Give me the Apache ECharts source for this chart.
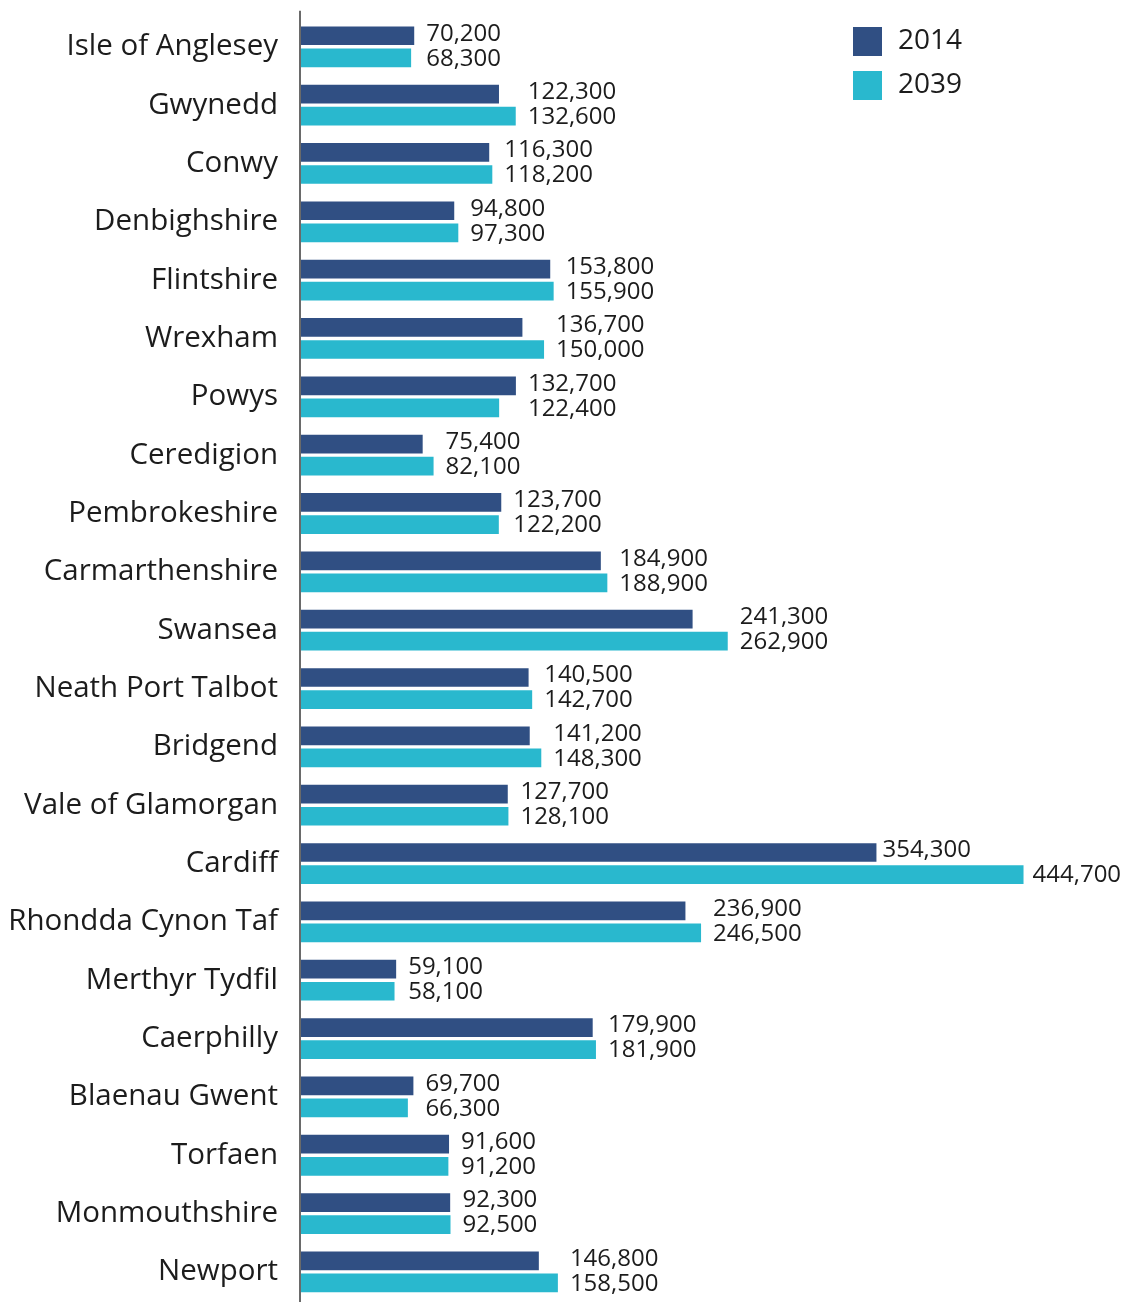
<!DOCTYPE html>
<html>
<head>
<meta charset="utf-8">
<script src="https://cdn.jsdelivr.net/npm/echarts@6/dist/echarts.min.js"></script>
<style>
html,body{margin:0;padding:0;background:#fff;}
#chart{width:1126px;height:1302px;}
</style>
</head>
<body>
<div id="chart"></div>
<script>
const categories = ["Isle of Anglesey","Gwynedd","Conwy","Denbighshire","Flintshire","Wrexham","Powys","Ceredigion","Pembrokeshire","Carmarthenshire","Swansea","Neath Port Talbot","Bridgend","Vale of Glamorgan","Cardiff","Rhondda Cynon Taf","Merthyr Tydfil","Caerphilly","Blaenau Gwent","Torfaen","Monmouthshire","Newport"];
const values2014 = [70200,122300,116300,94800,153800,136700,132700,75400,123700,184900,241300,140500,141200,127700,354300,236900,59100,179900,69700,91600,92300,146800];
const values2039 = [68300,132600,118200,97300,155900,150000,122400,82100,122200,188900,262900,142700,148300,128100,444700,246500,58100,181900,66300,91200,92500,158500];
const seriesNames = ["2014","2039"];

const C14 = '#304f83', C39 = '#29b8ce', TXT = '#1c1c1c';
const FONT = '"Open Sans", "Noto Sans", sans-serif';
const fmt = v => v.toLocaleString('en-GB');

const labelData = categories.map((c,i)=>[i, values2014[i], values2039[i]]);

const chart = echarts.init(document.getElementById('chart'), null, {renderer:'canvas'});
chart.setOption({
  animation:false,
  textStyle:{fontFamily:FONT},
  grid:{left:300, right:12.5, top:17.6, bottom:0.9, containLabel:false},
  xAxis:{type:'value', min:0, max:500000, show:false},
  yAxis:{
    type:'category', data:categories, inverse:true,
    axisLine:{show:false}, axisTick:{show:false},
    axisLabel:{fontSize:29.5, color:TXT, margin:22, fontFamily:FONT, padding:[0,0,8,0]}
  },
  legend:{
    data:seriesNames, orient:'vertical', left:848, top:22,
    itemWidth:29, itemHeight:29, itemGap:15, icon:'rect',
    textStyle:{fontSize:28, color:TXT, fontFamily:FONT, padding:[0,0,0,11]}
  },
  graphic:[{type:'line', shape:{x1:300, y1:10.7, x2:300, y2:1302}, style:{stroke:'#6a6a6a', lineWidth:2}, z:10}],
  series:[
    {name:'2014', type:'bar', data:values2014, barWidth:18.7, barGap:'18%', itemStyle:{color:C14}},
    {name:'2039', type:'bar', data:values2039, barWidth:18.7, barGap:'18%', itemStyle:{color:C39}},
    {
      type:'custom', data:labelData, encode:{x:[1,2], y:0}, silent:true, z:5,
      renderItem:function(params, api){
        const idx = api.value(0), a = api.value(1), b = api.value(2);
        const cy = api.coord([0, idx])[1];
        const xa = api.coord([a, idx])[0], xb = api.coord([b, idx])[0];
        let la, lb;
        if (Math.abs(xb - xa) > 100) { la = xa + 6; lb = xb + 9; }
        else { const m = Math.max(xa, xb) + 12; la = m; lb = m; }
        const st = (t,x,y)=>({type:'text', style:{text:t, x:x, y:y, fill:TXT, font:'24px ' + FONT, textAlign:'left', textVerticalAlign:'middle'}});
        return {type:'group', children:[ st(fmt(a), la, cy - 13), st(fmt(b), lb, cy + 12) ]};
      }
    }
  ]
});
</script>
</body>
</html>
